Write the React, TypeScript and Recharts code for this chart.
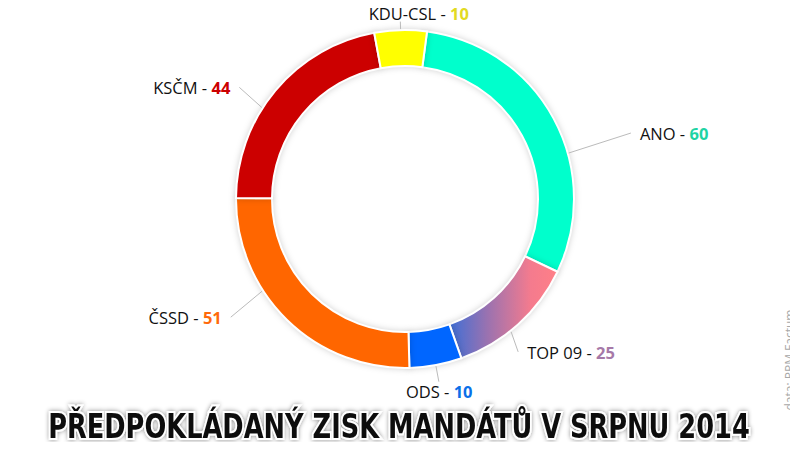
import { useLayoutEffect, useRef, useState } from 'react';
import { PieChart, Pie, Cell } from 'recharts';

const parties = ['ANO', 'TOP 09', 'ODS', 'ČSSD', 'KSČM', 'KDU-ČSL'];
const seats = [60, 25, 10, 51, 44, 10];
const sliceColors = ['#00ffcc', 'url(#top09Grad)', '#0066ff', '#ff6600', '#cc0000', '#ffff00'];
const valueColors = ['#1fd3a4', '#a679a8', '#0b6fe8', '#ff6a0a', '#cc0000', '#e2da22'];
// small hand tweaks so the labels sit where the original has them
const labelNudge = [[60, 29], [-11, 5], [-2, -4], [-44, -24], [-22, 16], [19, 12.5]];

const title = 'PŘEDPOKLÁDANÝ ZISK MANDÁTŮ V SRPNU 2014';
const source = 'data: PPM Factum';

const data = parties.map((name, i) => ({ name, value: seats[i] }));

const RAD = Math.PI / 180;
const TITLE_WIDTH = 702;

const renderLabel = (props: any) => {
  const { cx, cy, midAngle, outerRadius, index } = props;
  const r = outerRadius + 30;
  const mx = Math.cos(-midAngle * RAD);
  const my = Math.sin(-midAngle * RAD);
  const bx = cx + r * mx + labelNudge[index][0];
  const by = cy + r * my + labelNudge[index][1];
  const dx = bx - cx;
  const dy = by - cy;
  const middle = Math.abs(dx) < 60;
  const anchor = middle ? 'middle' : dx > 0 ? 'start' : 'end';
  let sx, sy, ex, ey;
  if (middle) {
    sx = cx + (outerRadius + 1) * mx;
    sy = cy + (outerRadius + 1) * my;
    const L = (Math.abs(by - sy) - 9) / Math.abs(my);
    ex = sx + L * mx;
    ey = sy + L * my;
  } else {
    const dist = Math.sqrt(dx * dx + dy * dy);
    sx = cx + (outerRadius + 1) * (dx / dist);
    sy = cy + (outerRadius + 1) * (dy / dist);
    ex = bx - 9 * Math.sign(dx);
    ey = by;
  }
  return (
    <g key={`lbl-${index}`}>
      <line x1={sx} y1={sy} x2={ex} y2={ey} stroke="#bbbbbb" strokeWidth={1} />
      <text
        x={bx}
        y={by}
        textAnchor={anchor}
        dominantBaseline="central"
        fontFamily="'Open Sans', sans-serif"
        fontSize={16.5}
        fill="#111"
      >
        <tspan>{parties[index]} - </tspan>
        <tspan fontWeight="bold" fill={valueColors[index]}>{seats[index]}</tspan>
      </text>
    </g>
  );
};

export default function App() {
  const titleRef = useRef<SVGTextElement>(null);
  const [titleScale, setTitleScale] = useState(0.85);

  useLayoutEffect(() => {
    if (titleRef.current) {
      const len = titleRef.current.getComputedTextLength();
      if (len > 0) setTitleScale(TITLE_WIDTH / len);
    }
  }, []);

  return (
    <div style={{ position: 'relative', width: 798, height: 450, margin: -8, background: '#fff' }}>
      <style>{'.recharts-pie-sector path { filter: drop-shadow(0 0 3px rgba(0,0,0,0.18)); }'}</style>
      <PieChart width={798} height={450} margin={{ top: 0, right: 0, bottom: 0, left: 0 }}>
        <defs>
          <linearGradient id="top09Grad" x1="0" y1="0" x2="1" y2="0">
            <stop offset="0%" stopColor="#3f6fd6" />
            <stop offset="35%" stopColor="#9a72b0" />
            <stop offset="75%" stopColor="#f47b8e" />
            <stop offset="100%" stopColor="#ff7f87" />
          </linearGradient>
        </defs>
        <Pie
          data={data}
          dataKey="value"
          nameKey="name"
          cx={405}
          cy={199}
          innerRadius={133}
          outerRadius={169}
          startAngle={82.5}
          endAngle={-277.5}
          stroke="#ffffff"
          strokeWidth={2}
          label={renderLabel}
          labelLine={false}
          isAnimationActive={false}
        >
          {data.map((d, i) => (
            <Cell key={d.name} fill={sliceColors[i]} />
          ))}
        </Pie>
      </PieChart>
      <svg width={798} height={450} style={{ position: 'absolute', left: 0, top: 0, pointerEvents: 'none' }}>
        <defs>
          <filter id="titleShadow" x="-5%" y="-30%" width="110%" height="160%">
            <feDropShadow dx="0" dy="0" stdDeviation="2.5" floodColor="#000" floodOpacity="0.45" />
          </filter>
        </defs>
        <g transform={`translate(399 438) scale(${titleScale} 1)`}>
          <text
            ref={titleRef}
            x={0}
            y={0}
            textAnchor="middle"
            fontFamily="'DejaVu Sans Condensed', 'DejaVu Sans', sans-serif"
            fontWeight="bold"
            fontSize={34}
            fill="#111"
            stroke="#ffffff"
            strokeWidth={4}
            paintOrder="stroke"
            filter="url(#titleShadow)"
          >
            {title}
          </text>
        </g>
        <text
          x={0}
          y={0}
          transform="translate(789 360) rotate(-90)"
          textAnchor="middle"
          dominantBaseline="central"
          fontFamily="'Open Sans', sans-serif"
          fontSize={12}
          fill="#a8a8a8"
        >
          {source}
        </text>
      </svg>
    </div>
  );
}
